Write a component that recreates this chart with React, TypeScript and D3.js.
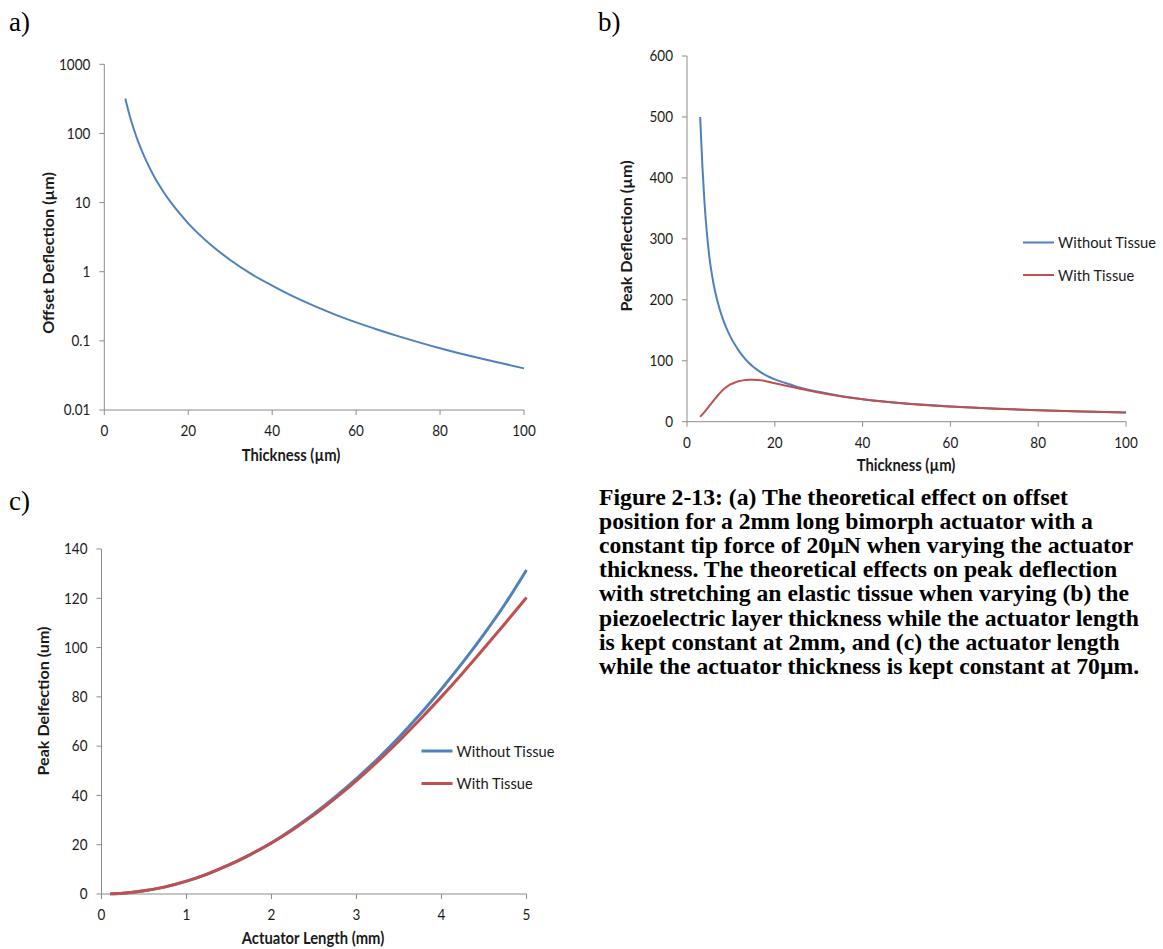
import React from "react";
import * as d3 from "d3";

// (a) offset deflection vs thickness (log scale)
const thicknessA = [5, 6, 7, 8, 9, 10, 12, 14, 16, 18, 20, 25, 30, 35, 40, 45, 50, 55, 60, 65, 70, 75, 80, 85, 90, 95, 100];
const offsetA = [320, 185, 117, 78, 55, 40, 23, 14.6, 9.8, 6.9, 5.0, 2.56, 1.48, 0.93, 0.63, 0.44, 0.32, 0.24, 0.185, 0.146, 0.117, 0.095, 0.078, 0.065, 0.055, 0.047, 0.04];
const yTicksA = [0.01, 0.1, 1, 10, 100, 1000];
const xTicksA = [0, 20, 40, 60, 80, 100];

// (b) peak deflection vs thickness
const thicknessB = [3, 3.5, 4, 4.5, 5, 6, 7, 8, 9, 10, 11, 12, 13, 14, 15, 16, 18, 20, 22, 25, 30, 35, 40, 50, 60, 70, 80, 90, 100];
const withoutTissueB = [500, 420, 358, 312, 276, 228, 196, 172, 153, 138, 125.5, 114.5, 105, 97, 90.5, 85, 76, 69.5, 64.5, 57.5, 49, 42.2, 37, 29.8, 25, 21.5, 18.8, 16.7, 15];
const withTissueB = [8, 12, 16, 20.5, 25, 34, 43, 51, 57, 61.5, 64.5, 66.8, 68.2, 68.9, 69, 68.6, 66.5, 63, 59.8, 55.3, 47.8, 41.6, 36.7, 29.5, 24.8, 21.3, 18.7, 16.6, 15];
const yTicksB = [0, 100, 200, 300, 400, 500, 600];
const xTicksB = [0, 20, 40, 60, 80, 100];

// (c) peak deflection vs actuator length
const lengthC = [0.1, 0.25, 0.5, 0.75, 1, 1.25, 1.5, 1.75, 2, 2.25, 2.5, 2.75, 3, 3.25, 3.5, 3.75, 4, 4.25, 4.5, 4.75, 5];
const withoutTissueC = [0.05, 0.3, 1.3, 2.9, 5.2, 8.2, 11.8, 16, 20.8, 26.4, 32.6, 39.4, 46.8, 54.9, 63.6, 73.0, 83.2, 94.0, 105.5, 117.8, 131.5];
const withTissueC = [0.05, 0.3, 1.3, 2.9, 5.2, 8.2, 11.8, 16, 20.7, 26.1, 32.1, 38.8, 46.0, 53.8, 62.1, 70.9, 80.1, 89.7, 99.7, 109.9, 120.3];
const yTicksC = [0, 20, 40, 60, 80, 100, 120, 140];
const xTicksC = [0, 1, 2, 3, 4, 5];

const seriesNames = ["Without Tissue", "With Tissue"];
const BLUE = "#4F81BD";
const RED = "#C0504D";
const AXIS = "#8c8c8c";
const INK = "#1a1a1a";
const SANS = "Lato, 'Open Sans', sans-serif";
const SERIF = "'Liberation Serif', 'Times New Roman', serif";
const STRETCH = 1.09; // chart glyphs are set slightly taller than wide

const captionLines = [
  "Figure 2-13: (a) The theoretical effect on offset",
  "position for a 2mm long bimorph actuator with a",
  "constant tip force of 20µN when varying the actuator",
  "thickness. The theoretical effects on peak deflection",
  "with stretching an elastic tissue when varying (b) the",
  "piezoelectric layer thickness while the actuator length",
  "is kept constant at 2mm, and (c) the actuator length",
  "while the actuator thickness is kept constant at 70µm.",
];

function T({ x, y, vertical, anchor, size, bold, family, children }: any) {
  const tf = vertical
    ? `translate(${x},${y}) rotate(-90) scale(${STRETCH},1)`
    : `translate(${x},${y}) scale(1,${STRETCH})`;
  return (
    <text transform={tf} textAnchor={anchor || "start"} fontFamily={family || SANS}
      fontSize={size} fontWeight={bold ? "bold" : "normal"} fill={INK}>
      {children}
    </text>
  );
}

function Axes({ x, y, xTicks, yTicks, fmtY, xTitle, yTitle, xTitlePos, yTitlePos }: any) {
  const [x0, x1] = x.range();
  const [y0, y1] = y.range();
  return (
    <g>
      <line x1={x0} x2={x1} y1={y0} y2={y0} stroke={AXIS} strokeWidth={1} />
      <line x1={x0} x2={x0} y1={y0} y2={y1} stroke={AXIS} strokeWidth={1} />
      {xTicks.map((t: number) => (
        <g key={"x" + t}>
          <line x1={x(t)} x2={x(t)} y1={y0} y2={y0 + 5} stroke={AXIS} />
          <T x={x(t)} y={y0 + 26} anchor="middle" size={13.5}>{t}</T>
        </g>
      ))}
      {yTicks.map((t: number) => (
        <g key={"y" + t}>
          <line x1={x0 - 5} x2={x0} y1={y(t)} y2={y(t)} stroke={AXIS} />
          <T x={x0 - 14} y={y(t) + 5.3} anchor="end" size={13.5}>{fmtY ? fmtY(t) : t}</T>
        </g>
      ))}
      <T x={xTitlePos[0]} y={xTitlePos[1]} anchor="middle" size={14.8} bold>{xTitle}</T>
      <T x={yTitlePos[0]} y={yTitlePos[1]} anchor="middle" size={14.8} bold vertical>{yTitle}</T>
    </g>
  );
}

function Legend({ x, y, gap, width }: any) {
  return (
    <g>
      {seriesNames.map((n, i) => (
        <g key={n}>
          <line x1={x} x2={x + 31} y1={y + i * gap} y2={y + i * gap} stroke={i === 0 ? BLUE : RED} strokeWidth={width} />
          <T x={x + 35} y={y + i * gap + 5.5} size={14.7}>{n}</T>
        </g>
      ))}
    </g>
  );
}

export default function App() {
  // panel (a)
  const xa = d3.scaleLinear().domain([0, 100]).range([104.3, 524]);
  const ya = d3.scaleLog().domain([0.01, 1000]).range([410, 64.3]);
  const lineA = d3.line<number>().x((_, i) => xa(thicknessA[i])).y((d) => ya(d)).curve(d3.curveMonotoneX);

  // panel (b)
  const xb = d3.scaleLinear().domain([0, 100]).range([687, 1126]);
  const yb = d3.scaleLinear().domain([0, 600]).range([421.7, 56]);
  const lineB = d3.line<number>().x((_, i) => xb(thicknessB[i])).y((d) => yb(d)).curve(d3.curveMonotoneX);

  // panel (c)
  const xc = d3.scaleLinear().domain([0, 5]).range([101.5, 526.5]);
  const yc = d3.scaleLinear().domain([0, 140]).range([894, 549]);
  const lineC = d3.line<number>().x((_, i) => xc(lengthC[i])).y((d) => yc(d)).curve(d3.curveMonotoneX);

  const fmtLog = (v: number) => (v < 1 ? String(v) : d3.format("d")(v));

  return (
    <svg width={1163} height={949} style={{ position: "absolute", left: 0, top: 0, background: "#fff" }}>
      <rect width={1163} height={949} fill="#fff" />

      <text x={9} y={31} fontFamily={SERIF} fontSize={27} fill="#000">a)</text>
      <Axes x={xa} y={ya} xTicks={xTicksA} yTicks={yTicksA} fmtY={fmtLog}
        xTitle="Thickness (µm)" yTitle="Offset Deflection (µm)" xTitlePos={[291, 460.5]} yTitlePos={[54, 253]} />
      <path d={lineA(offsetA) || ""} fill="none" stroke={BLUE} strokeWidth={2} />

      <text x={598} y={31} fontFamily={SERIF} fontSize={27} fill="#000">b)</text>
      <Axes x={xb} y={yb} xTicks={xTicksB} yTicks={yTicksB}
        xTitle="Thickness (µm)" yTitle="Peak Deflection (µm)" xTitlePos={[906, 471]} yTitlePos={[632, 236]} />
      <path d={lineB(withoutTissueB) || ""} fill="none" stroke={BLUE} strokeWidth={2} />
      <path d={lineB(withTissueB) || ""} fill="none" stroke={RED} strokeWidth={2} />
      <Legend x={1023} y={242.5} gap={32.5} width={2} />

      <text x={9} y={510} fontFamily={SERIF} fontSize={27} fill="#000">c)</text>
      <Axes x={xc} y={yc} xTicks={xTicksC} yTicks={yTicksC}
        xTitle="Actuator Length (mm)" yTitle="Peak Delfection (um)" xTitlePos={[313, 944]} yTitlePos={[48.5, 701]} />
      <path d={lineC(withoutTissueC) || ""} fill="none" stroke={BLUE} strokeWidth={3} />
      <path d={lineC(withTissueC) || ""} fill="none" stroke={RED} strokeWidth={3} />
      <Legend x={421.5} y={751} gap={32.5} width={3} />

      <g fontFamily={SERIF} fontWeight="bold" fontSize={23.7} fill="#000">
        {captionLines.map((l, i) => (
          <text key={i} x={599} y={505 + i * 24.1}>{l}</text>
        ))}
      </g>
    </svg>
  );
}
